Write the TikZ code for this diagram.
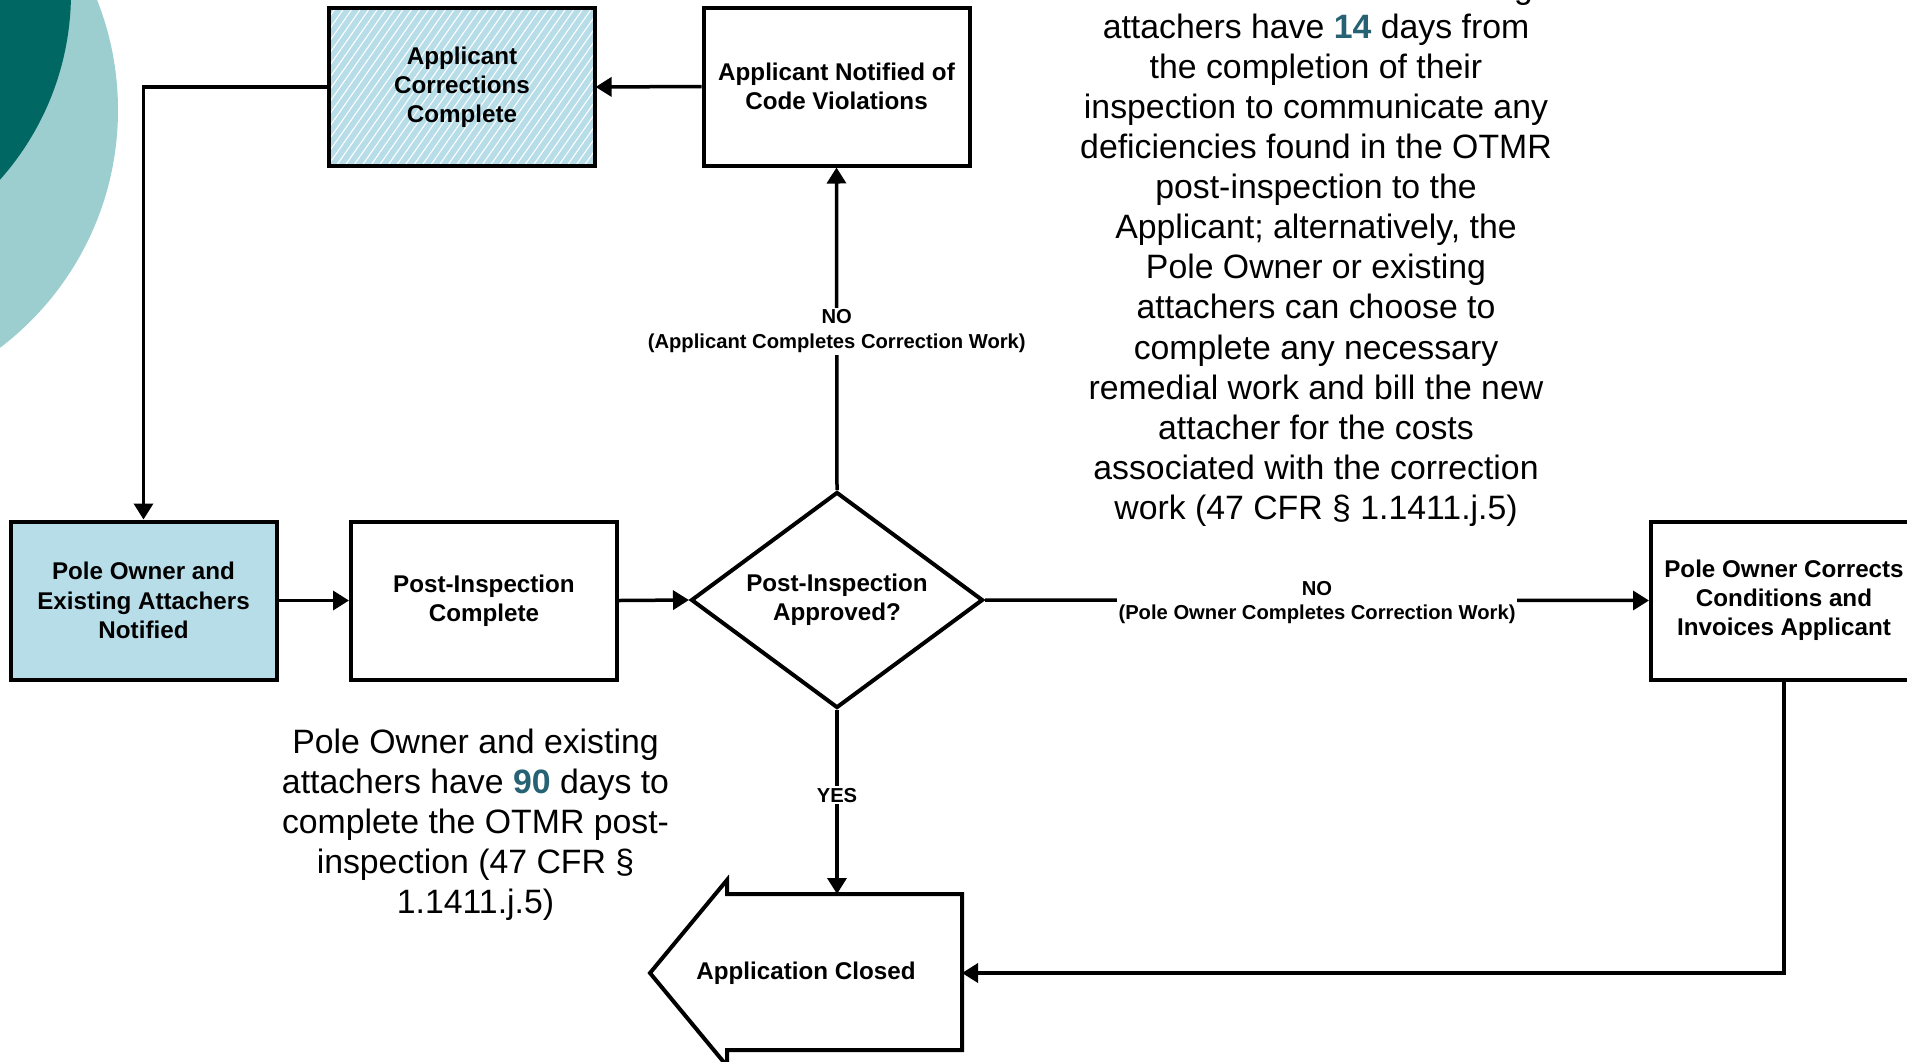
\documentclass[tikz,border=0pt]{standalone}
\usepackage{fontspec}
\setmainfont{Liberation Sans}
\usetikzlibrary{arrows.meta,shapes.geometric,patterns.meta}
\definecolor{tealdark}{RGB}{0,103,98}
\definecolor{teallight}{RGB}{156,206,207}
\definecolor{boxblue}{RGB}{183,221,232}
\definecolor{numblue}{RGB}{38,98,115}
\begin{document}
\begin{tikzpicture}[x=0.5pt,y=-0.5pt,
  box/.style={draw=black, line width=2pt, minimum width=133pt, minimum height=79pt, inner sep=2pt, align=center, font=\bfseries\fontsize{12.1}{14.6}\selectfont},
  conn/.style={line width=1.75pt, -{Triangle[length=8pt,width=9.5pt]}},
  lbl/.style={fill=white, inner sep=1pt, align=center, yshift=-1.2pt, font=\bfseries\fontsize{10.1}{12.2}\selectfont},
  note/.style={align=center, inner sep=0pt, font=\fontsize{16.9}{20.05}\selectfont}
]
\useasboundingbox (0,0) rectangle (1907,1061);
\clip (0,0) rectangle (1907,1061);
% decorative circles
\fill[teallight] (-180.6,110) circle[radius=149.3pt];
\fill[tealdark] (-210,-7) circle[radius=140.5pt];

% boxes
\node[box, preaction={fill=boxblue}, pattern={Lines[angle=55,distance=3.5pt,line width=0.55pt]}, pattern color=white] (acc) at (462,87) {Applicant\\Corrections\\Complete};
\node[box] (ancv) at (836.5,86.5) {Applicant Notified of\\Code Violations};
\node[box, fill=boxblue] (pon) at (143.5,600.5) {Pole Owner and\\Existing Attachers\\Notified};
\node[box] (pic) at (484,600.5) {Post-Inspection\\Complete};
\node[diamond, draw, line width=2pt, minimum width=146pt, minimum height=108pt, inner sep=0pt, aspect=1.35, align=center, font=\bfseries\fontsize{12.1}{14.6}\selectfont] (dec) at (837,600) {Post-Inspection\\Approved?};
\node[box] (poc) at (1784,600.5) {Pole Owner Corrects\\Conditions and\\Invoices Applicant};

% Application Closed (left-pointing arrow shape)
\draw[line width=2pt, line join=miter] (650,973) -- (727,880) -- (727,894) -- (962,894) -- (962,1050) -- (727,1050) -- (727,1066) -- cycle;
\coordinate (actop) at (837,894);
\coordinate (acright) at (962,973);
\node[font=\bfseries\fontsize{12.1}{14.6}\selectfont] (act) at (806,973) {Application Closed};

% connectors
\draw[conn] (ancv.west) -- (acc.east);
\draw[conn] (acc.west) -| (pon.north);
\draw[conn] (pon.east) -- (pic.west);
\draw[conn] (pic.east) -- (dec.west);
\draw[conn] (dec.north) -- node[lbl] (lbla) {NO\\(Applicant Completes Correction Work)} (ancv.south);
\draw[conn] (dec.east) -- node[lbl] (lblb) {NO\\(Pole Owner Completes Correction Work)} (poc.west);
\draw[conn] (dec.south) -- node[lbl, pos=0.45] (lblc) {YES} (actop);
\draw[conn] (poc.south) |- (acright);

% notes
\node[note] (n1) at (1316,250) {The Pole Owner and existing\\attachers have {\bfseries\color{numblue}14} days from\\the completion of their\\inspection to communicate any\\deficiencies found in the OTMR\\post-inspection to the\\Applicant; alternatively, the\\Pole Owner or existing\\attachers can choose to\\complete any necessary\\remedial work and bill the new\\attacher for the costs\\associated with the correction\\work (47 CFR § 1.1411.j.5)};
\node[note] (n2) at (475.5,825) {Pole Owner and existing\\attachers have {\bfseries\color{numblue}90} days to\\complete the OTMR post-\\inspection (47 CFR §\\1.1411.j.5)};
\end{tikzpicture}
\end{document}
